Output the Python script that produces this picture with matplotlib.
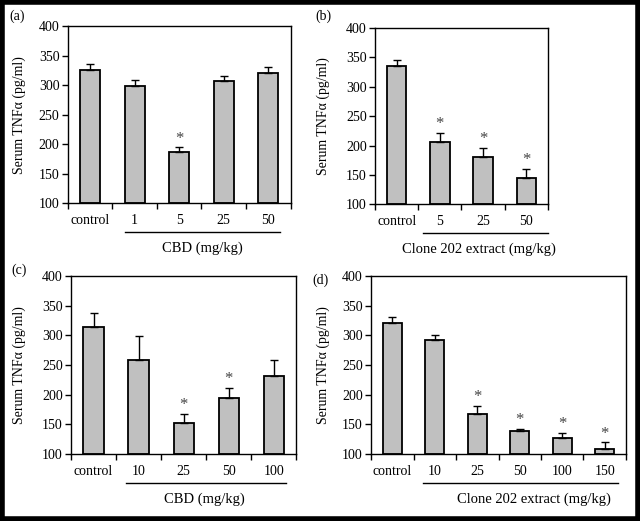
import numpy as np
import matplotlib
matplotlib.use("Agg")
import matplotlib.pyplot as plt
import matplotlib.transforms as mtransforms
from matplotlib.patches import Rectangle

plt.rcParams['font.family'] = ['Liberation Serif', 'DejaVu Serif']

# panel data
doses_a = ["control", "1", "5", "25", "50"]
mean_a = [326, 298, 186, 307, 320]
err_a = [10, 10, 9, 9, 10]
star_a = [False, False, True, False, False]

doses_b = ["control", "5", "25", "50"]
mean_b = [336, 206, 181, 144]
err_b = [9, 16, 15, 16]
star_b = [False, True, True, True]

doses_c = ["control", "10", "25", "50", "100"]
mean_c = [314, 258, 153, 194, 231]
err_c = [24, 40, 15, 17, 28]
star_c = [False, False, True, True, False]

doses_d = ["control", "10", "25", "50", "100", "150"]
mean_d = [321, 292, 167, 138, 127, 109]
err_d = [10, 9, 14, 4, 9, 11]
star_d = [False, False, True, True, True, True]

panels = [
    # label, doses, means, errs, stars, xlabel, axes rect, line span, xlabel x, ylabel x, label pos (px)
    ("(a)", doses_a, mean_a, err_a, star_a, "CBD (mg/kg)",
     [0.106, 0.610, 0.348, 0.340], (0.78, 4.26), 0.605, -0.19, (9, 16)),
    ("(b)", doses_b, mean_b, err_b, star_b, "Clone 202 extract (mg/kg)",
     [0.586, 0.608, 0.270, 0.338], (0.62, 3.5), 0.60, -0.26, (315, 16)),
    ("(c)", doses_c, mean_c, err_c, star_c, "CBD (mg/kg)",
     [0.111, 0.1286, 0.352, 0.342], (0.72, 4.28), 0.59, -0.20, (11, 270)),
    ("(d)", doses_d, mean_d, err_d, star_d, "Clone 202 extract (mg/kg)",
     [0.580, 0.1286, 0.398, 0.342], (0.73, 5.32), 0.64, -0.16, (312, 280)),
]

fig = plt.figure(figsize=(6.4, 5.21), dpi=100)
fs = 10

for lab, doses, means, errs, stars, xlab, rect, span, xlx, ylx, labpos in panels:
    ax = fig.add_axes(rect)
    x = np.arange(len(doses))
    ax.bar(x, np.array(means) - 100, bottom=100, width=0.45, color="#c0c0c0",
           edgecolor="black", linewidth=1.3, zorder=2)
    ax.errorbar(x, means, yerr=[np.zeros(len(errs)), errs], fmt="none",
                ecolor="black", elinewidth=1.0, capsize=3, capthick=1.0, zorder=3)
    for xi, m, e, s in zip(x, means, errs, stars):
        if s:
            ax.text(xi, m + e + 1, "*", ha="center", va="bottom", fontsize=fs + 2,
                    color="#444444")
    ax.set_xlim(-0.5, len(doses) - 0.5)
    ax.set_ylim(100, 400)
    ax.set_yticks(np.arange(100, 401, 50))
    ax.set_xticks(np.arange(-0.5, len(doses), 1.0))
    ax.set_xticklabels([])
    ax.set_xticks(x, minor=True)
    ax.set_xticklabels(doses, minor=True)
    ax.tick_params(axis="x", which="minor", length=0, pad=8, labelsize=fs)
    ax.tick_params(axis="x", which="major", direction="out", length=4, width=1.0)
    ax.tick_params(axis="y", direction="out", length=4, width=1.0, labelsize=fs, pad=2)
    for sp in ax.spines.values():
        sp.set_linewidth(1.0)
    ax.set_ylabel("Serum TNF\u03b1 (pg/ml)", fontsize=fs)
    ax.yaxis.set_label_coords(ylx, 0.5)

    trans = mtransforms.blended_transform_factory(ax.transData, ax.transAxes)
    ax.plot(span, [-0.165, -0.165], color="black", linewidth=1.0,
            transform=trans, clip_on=False)
    ax.text(xlx, -0.255, xlab, transform=ax.transAxes, ha="center", va="center",
            fontsize=fs + 0.5)
    fig.text(labpos[0] / 640, 1 - labpos[1] / 521, lab, ha="left", va="center",
             fontsize=fs)

fig.patches.append(Rectangle((0.003, 0.004), 0.994, 0.992, transform=fig.transFigure,
                             fill=False, edgecolor="black", linewidth=4))

fig.savefig("out.png", dpi=100)
